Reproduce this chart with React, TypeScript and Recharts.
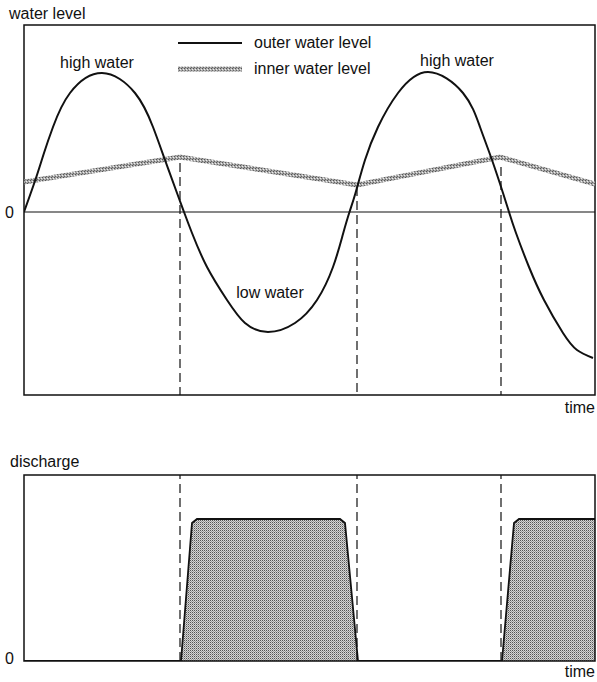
import React from 'react';
import {
  ComposedChart,
  Line,
  Area,
  XAxis,
  YAxis,
  ReferenceLine,
  ReferenceArea,
  ReferenceDot,
  Label,
} from 'recharts';

const FONT = '"Liberation Sans", Arial, Helvetica, sans-serif';
const INK = '#111';
const FS = 16;

// time axis (arbitrary units) and water levels
const outerTime = [0, 1.2, 2.0, 2.9, 4.6, 7.8, 11.1, 12.9, 14.1, 15.3, 16.0, 16.8, 18.3, 20.3, 22.1, 24.4, 27.1, 29.3, 30.9, 31.9, 32.55, 33.15, 34.1, 35.4, 37.4, 40.4, 43.9, 45.6, 46.8, 47.9, 48.5, 49.2, 50.5, 52.0, 53.9, 55.3, 56.9];
const outerLevel = [0, 3.4, 5.9, 8.5, 11.9, 13.9, 11.9, 8.5, 5.2, 1.9, 0, -2.1, -5.5, -8.8, -11.1, -12.0, -11.1, -8.8, -5.5, -2.2, 0, 1.9, 5.2, 8.5, 11.9, 14.0, 11.9, 8.5, 5.2, 1.9, 0, -2.1, -5.5, -8.8, -12.1, -13.8, -14.6];

const innerTime = [0, 15.6, 33.3, 47.6, 57.1];
const innerLevel = [3.0, 5.5, 2.7, 5.5, 2.8];

const dischargeTime = [0, 15.7, 16.8, 17.3, 31.6, 32.1, 33.4, 47.8, 49.0, 49.5, 57.1];
const dischargeRate = [0, 0, 13.8, 14.2, 14.2, 13.8, 0, 0, 13.8, 14.2, 14.2];

// sluice switching moments (dashed lines) and where they start in the top panel
const switchTime = [15.6, 33.3, 47.7];
const switchTop = [4.9, 2.5, 4.5];

const timeDomain: [number, number] = [0, 57.1];
const levelDomain: [number, number] = [-18.3, 18.7];
const dischargeDomain: [number, number] = [0, 18.6];

const labels = [
  { text: 'high water', t: 7.3, v: 15.0 },
  { text: 'high water', t: 43.3, v: 15.2 },
  { text: 'low water', t: 24.6, v: -8.0 },
];

const legendItems = [
  { name: 'outer water level', kind: 'outer' },
  { name: 'inner water level', kind: 'inner' },
];

const outerData = outerTime.map((t, i) => ({ t, v: outerLevel[i] }));
const innerData = innerTime.map((t, i) => ({ t, v: innerLevel[i] }));
const dischargeData = dischargeTime.map((t, i) => ({ t, q: dischargeRate[i] }));

const textStyle = { fontFamily: FONT, fontSize: FS, fill: INK } as const;

function HatchDefs({ id }: { id: string }) {
  return (
    <defs>
      <pattern id={id} patternUnits="userSpaceOnUse" width="3" height="3">
        <rect width="3" height="3" fill="#a8a8a8" />
        <rect x="0" y="0" width="1" height="1" fill="#555" />
        <rect x="2" y="1" width="1" height="1" fill="#eee" />
        <rect x="1" y="2" width="1" height="1" fill="#666" />
      </pattern>
    </defs>
  );
}

function Legend() {
  return (
    <div style={{ position: 'absolute', left: 178, top: 30, fontFamily: FONT, fontSize: FS, color: INK }}>
      {legendItems.map((it) => (
        <div key={it.name} style={{ display: 'flex', alignItems: 'center', height: 26 }}>
          <svg width={64} height={8} style={{ display: 'block' }}>
            {it.kind === 'inner' ? <HatchDefs id="legendHatch" /> : null}
            <line
              x1={0}
              x2={64}
              y1={4}
              y2={4}
              stroke={it.kind === 'inner' ? 'url(#legendHatch)' : INK}
              strokeWidth={it.kind === 'inner' ? 5 : 2}
            />
          </svg>
          <span style={{ marginLeft: 12, lineHeight: '16px' }}>{it.name}</span>
        </div>
      ))}
    </div>
  );
}

export default function App() {
  return (
    <div style={{ position: 'absolute', left: 0, top: 0, width: 597, height: 682, background: '#fff' }}>
      <div style={{ position: 'absolute', left: 0, top: 0 }}>
        <ComposedChart width={597} height={430} margin={{ top: 25, right: 2, bottom: 0, left: 0 }}>
          <HatchDefs id="innerHatch" />
          <XAxis
            type="number"
            dataKey="t"
            domain={timeDomain}
            allowDataOverflow
            axisLine={false}
            tickLine={false}
            tick={false}
            height={35}
          >
            <Label
              content={() => (
                <text x={595} y={413} textAnchor="end" style={textStyle}>
                  time
                </text>
              )}
            />
          </XAxis>
          <YAxis
            type="number"
            domain={levelDomain}
            allowDataOverflow
            ticks={[0]}
            width={24}
            axisLine={false}
            tickLine={false}
            tickSize={0}
            tickMargin={10}
            tick={{ fill: INK, fontSize: FS, fontFamily: FONT }}
          >
            <Label
              content={() => (
                <text x={9} y={19} textAnchor="start" style={textStyle}>
                  water level
                </text>
              )}
            />
          </YAxis>
          <ReferenceArea
            x1={timeDomain[0]}
            x2={timeDomain[1]}
            y1={levelDomain[0]}
            y2={levelDomain[1]}
            fill="none"
            stroke={INK}
            strokeWidth={1.5}
          />
          <ReferenceLine y={0} stroke={INK} strokeWidth={1.2} />
          {switchTime.map((t, i) => (
            <ReferenceLine
              key={'d' + i}
              segment={[
                { x: t, y: switchTop[i] },
                { x: t, y: levelDomain[0] },
              ]}
              stroke={INK}
              strokeWidth={1.2}
              strokeDasharray="9 5"
              ifOverflow="visible"
            />
          ))}
          <Line
            data={innerData}
            dataKey="v"
            type="linear"
            stroke="url(#innerHatch)"
            strokeWidth={5}
            dot={false}
            activeDot={false}
            isAnimationActive={false}
          />
          <Line
            data={outerData}
            dataKey="v"
            type="natural"
            stroke={INK}
            strokeWidth={2}
            dot={false}
            activeDot={false}
            isAnimationActive={false}
          />
          {labels.map((l, i) => (
            <ReferenceDot
              key={'l' + i}
              x={l.t}
              y={l.v}
              r={0}
              fill="none"
              stroke="none"
              ifOverflow="visible"
              label={{ value: l.text, position: 'center', fill: INK, fontSize: FS, fontFamily: FONT }}
            />
          ))}
        </ComposedChart>
        <Legend />
      </div>

      <div style={{ position: 'absolute', left: 0, top: 430 }}>
        <ComposedChart width={597} height={252} margin={{ top: 45, right: 2, bottom: 0, left: 0 }}>
          <defs>
            <pattern id="stipple" patternUnits="userSpaceOnUse" width="2" height="2">
              <rect width="2" height="2" fill="#d6d6d6" />
              <rect x="0" y="0" width="1" height="1" fill="#555" />
              <rect x="1" y="1" width="1" height="1" fill="#9a9a9a" />
            </pattern>
          </defs>
          <XAxis
            type="number"
            dataKey="t"
            domain={timeDomain}
            allowDataOverflow
            axisLine={false}
            tickLine={false}
            tick={false}
            height={21}
          >
            <Label
              content={() => (
                <text x={595} y={247} textAnchor="end" style={textStyle}>
                  time
                </text>
              )}
            />
          </XAxis>
          <YAxis
            type="number"
            domain={dischargeDomain}
            allowDataOverflow
            ticks={[0]}
            width={24}
            axisLine={false}
            tickLine={false}
            tickSize={0}
            tickMargin={10}
            tick={{ fill: INK, fontSize: FS, fontFamily: FONT, dy: -3 }}
          >
            <Label
              content={() => (
                <text x={10} y={37} textAnchor="start" style={textStyle}>
                  discharge
                </text>
              )}
            />
          </YAxis>
          <Area
            data={dischargeData}
            dataKey="q"
            type="linear"
            fill="url(#stipple)"
            fillOpacity={1}
            stroke={INK}
            strokeWidth={1.8}
            dot={false}
            activeDot={false}
            isAnimationActive={false}
          />
          <ReferenceArea
            x1={timeDomain[0]}
            x2={timeDomain[1]}
            y1={dischargeDomain[0]}
            y2={dischargeDomain[1]}
            fill="none"
            stroke={INK}
            strokeWidth={1.5}
          />
          {switchTime.map((t, i) => (
            <ReferenceLine
              key={'b' + i}
              x={t}
              stroke={INK}
              strokeWidth={1.2}
              strokeDasharray="9 5"
            />
          ))}
        </ComposedChart>
      </div>
    </div>
  );
}
